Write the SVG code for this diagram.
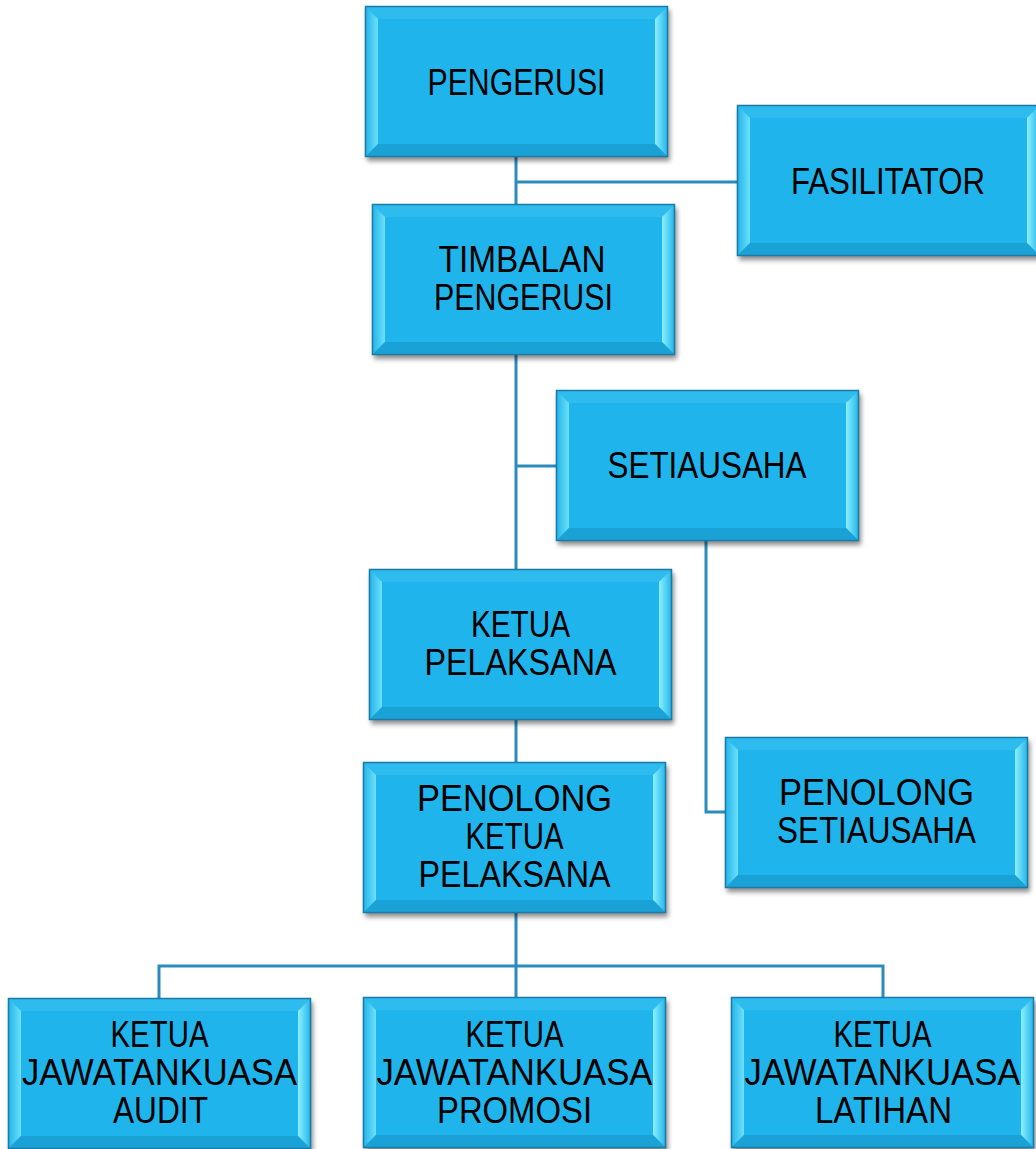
<svg xmlns="http://www.w3.org/2000/svg" xmlns:xlink="http://www.w3.org/1999/xlink" width="1036" height="1149" viewBox="0 0 1036 1149">
<style>
.t{font-family:"Liberation Sans",Arial,sans-serif;font-size:36px;fill:#000;text-anchor:middle}
.c{fill:none;stroke:#2a8cbc;stroke-width:3}
</style>
<defs>
<linearGradient id="gl" x1="0" y1="0" x2="1" y2="0"><stop offset="0" stop-color="#1fb3ea"/><stop offset="1" stop-color="#6ee0f9"/></linearGradient>
<linearGradient id="gr" x1="0" y1="0" x2="1" y2="0"><stop offset="0" stop-color="#8cf0fd"/><stop offset="1" stop-color="#1fb3ea"/></linearGradient>
<filter id="sh" x="-10%" y="-10%" width="130%" height="130%"><feGaussianBlur stdDeviation="2.5"/></filter>
<g id="box">
<rect x="2" y="4" width="303" height="151" fill="#000" opacity="0.45" filter="url(#sh)"/>
<rect x="0" y="0" width="303" height="151" fill="#1fb5ec"/>
<polygon points="0,0 303,0 290,13 13,13" fill="#2ebcee"/>
<polygon points="0,0 13,13 13,138 0,151" fill="url(#gl)"/>
<polygon points="303,0 303,151 290,138 290,13" fill="url(#gr)"/>
<polygon points="0,151 13,138 290,138 303,151" fill="#1aa2d6"/>
<rect x="0.5" y="0.5" width="302" height="150" fill="none" stroke="#1b7aa6" stroke-width="1.5"/>
</g>
</defs>
<rect width="1036" height="1149" fill="#fff"/>
<g id="connectors">
<line class="c" x1="516" y1="157" x2="516" y2="204"/>
<line class="c" x1="516" y1="182" x2="737" y2="182"/>
<line class="c" x1="516" y1="355" x2="516" y2="569"/>
<line class="c" x1="516" y1="466" x2="556" y2="466"/>
<polyline class="c" points="706,541 706,812 726,812"/>
<line class="c" x1="516" y1="720" x2="516" y2="762"/>
<line class="c" x1="516" y1="913" x2="516" y2="997"/>
<polyline class="c" points="159,998 159,966 883,966 883,997"/>
</g>
<g id="pengerusi"><use href="#box" x="365" y="6"/><text class="t" x="516.5" y="95" textLength="178" lengthAdjust="spacingAndGlyphs">PENGERUSI</text></g>
<g id="fasilitator"><use href="#box" x="737" y="105"/><text class="t" x="888" y="194" textLength="194" lengthAdjust="spacingAndGlyphs">FASILITATOR</text></g>
<g id="timbalan"><use href="#box" x="372" y="204"/><text class="t" x="522" y="272" textLength="167" lengthAdjust="spacingAndGlyphs">TIMBALAN</text><text class="t" x="523.5" y="310" textLength="179" lengthAdjust="spacingAndGlyphs">PENGERUSI</text></g>
<g id="setiausaha"><use href="#box" x="556" y="390"/><text class="t" x="707" y="478" textLength="199" lengthAdjust="spacingAndGlyphs">SETIAUSAHA</text></g>
<g id="ketua-pelaksana"><use href="#box" x="369" y="569"/><text class="t" x="520.5" y="637" textLength="99" lengthAdjust="spacingAndGlyphs">KETUA</text><text class="t" x="520.5" y="675" textLength="192" lengthAdjust="spacingAndGlyphs">PELAKSANA</text></g>
<g id="penolong-setiausaha"><use href="#box" x="725" y="737"/><text class="t" x="876.5" y="805" textLength="195" lengthAdjust="spacingAndGlyphs">PENOLONG</text><text class="t" x="876.5" y="843" textLength="199" lengthAdjust="spacingAndGlyphs">SETIAUSAHA</text></g>
<g id="penolong-ketua-pelaksana"><use href="#box" x="363" y="762"/><text class="t" x="514.5" y="811" textLength="195" lengthAdjust="spacingAndGlyphs">PENOLONG</text><text class="t" x="514.5" y="849" textLength="98" lengthAdjust="spacingAndGlyphs">KETUA</text><text class="t" x="514.5" y="887" textLength="192" lengthAdjust="spacingAndGlyphs">PELAKSANA</text></g>
<g id="audit"><use href="#box" x="8" y="998"/><text class="t" x="159.5" y="1047" textLength="98" lengthAdjust="spacingAndGlyphs">KETUA</text><text class="t" x="159.5" y="1085" textLength="275" lengthAdjust="spacingAndGlyphs">JAWATANKUASA</text><text class="t" x="160.5" y="1123" textLength="95" lengthAdjust="spacingAndGlyphs">AUDIT</text></g>
<g id="promosi"><use href="#box" x="363" y="997"/><text class="t" x="514.5" y="1047" textLength="98" lengthAdjust="spacingAndGlyphs">KETUA</text><text class="t" x="514.5" y="1085" textLength="276" lengthAdjust="spacingAndGlyphs">JAWATANKUASA</text><text class="t" x="514.5" y="1123" textLength="155" lengthAdjust="spacingAndGlyphs">PROMOSI</text></g>
<g id="latihan"><use href="#box" x="731" y="997"/><text class="t" x="882.5" y="1047" textLength="98" lengthAdjust="spacingAndGlyphs">KETUA</text><text class="t" x="882.5" y="1085" textLength="276" lengthAdjust="spacingAndGlyphs">JAWATANKUASA</text><text class="t" x="883.5" y="1123" textLength="137" lengthAdjust="spacingAndGlyphs">LATIHAN</text></g>
</svg>
